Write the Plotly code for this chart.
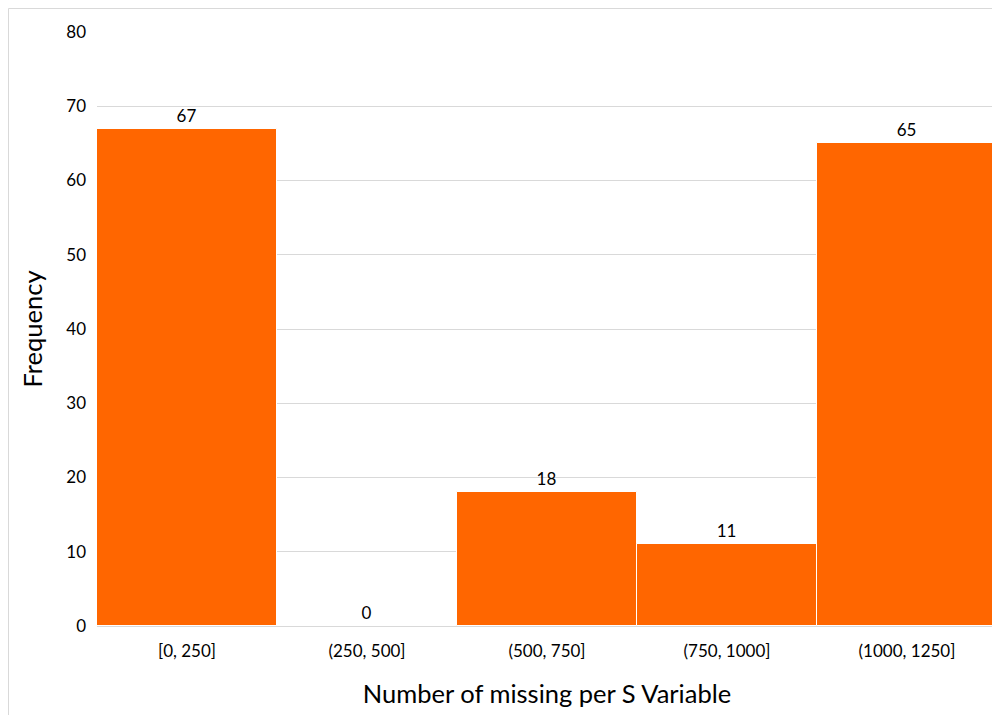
import plotly.graph_objects as go

categories = ["[0, 250]", "(250, 500]", "(500, 750]", "(750, 1000]", "(1000, 1250]"]
frequency = [67, 0, 18, 11, 65]
y_ticks = [0, 10, 20, 30, 40, 50, 60, 70, 80]

FONT = "Lato, Carlito, Calibri, sans-serif"

# page body has an 8px margin; the figure occupies 8..1000 x 8..715
W, H = 992, 707
ML, MR, MT, MB = 89, 3, 24, 89
PW, PH = W - ML - MR, H - MT - MB

fig = go.Figure(go.Bar(
    x=categories,
    y=frequency,
    marker=dict(color="#FF6600", line=dict(color="#FFFFFF", width=1)),
    text=[str(v) for v in frequency],
    textposition="outside",
    textfont=dict(family=FONT, size=17, color="#000000"),
    cliponaxis=False,
))

fig.update_layout(
    width=W, height=H,
    margin=dict(l=ML, r=MR, t=MT, b=MB),
    paper_bgcolor="#FFFFFF",
    plot_bgcolor="#FFFFFF",
    bargap=0,
    showlegend=False,
    font=dict(family=FONT, color="#000000"),
    xaxis=dict(
        title=dict(text="Number of missing per S Variable", font=dict(family=FONT, size=25.5), standoff=24),
        tickfont=dict(family=FONT, size=17),
        showline=True, linecolor="#D9D9D9", linewidth=1,
        showgrid=False, ticks="", ticklabelstandoff=10,
    ),
    yaxis=dict(
        title=dict(text="Frequency", font=dict(family=FONT, size=25.5), standoff=16),
        range=[0, 80], tickvals=y_ticks,
        tickfont=dict(family=FONT, size=17),
        showgrid=True, gridcolor="#D9D9D9", gridwidth=1,
        zeroline=False, ticks="", ticklabelstandoff=10,
    ),
    shapes=[dict(
        type="rect", xref="paper", yref="paper",
        x0=(-ML + 0.5) / PW, x1=(PW + MR + 20) / PW,
        y0=-(MB + 20) / PH, y1=(PH + MT - 0.5) / PH,
        line=dict(color="#D9D9D9", width=1), fillcolor="rgba(0,0,0,0)", layer="below",
    )],
)

fig.write_html("out.html")
